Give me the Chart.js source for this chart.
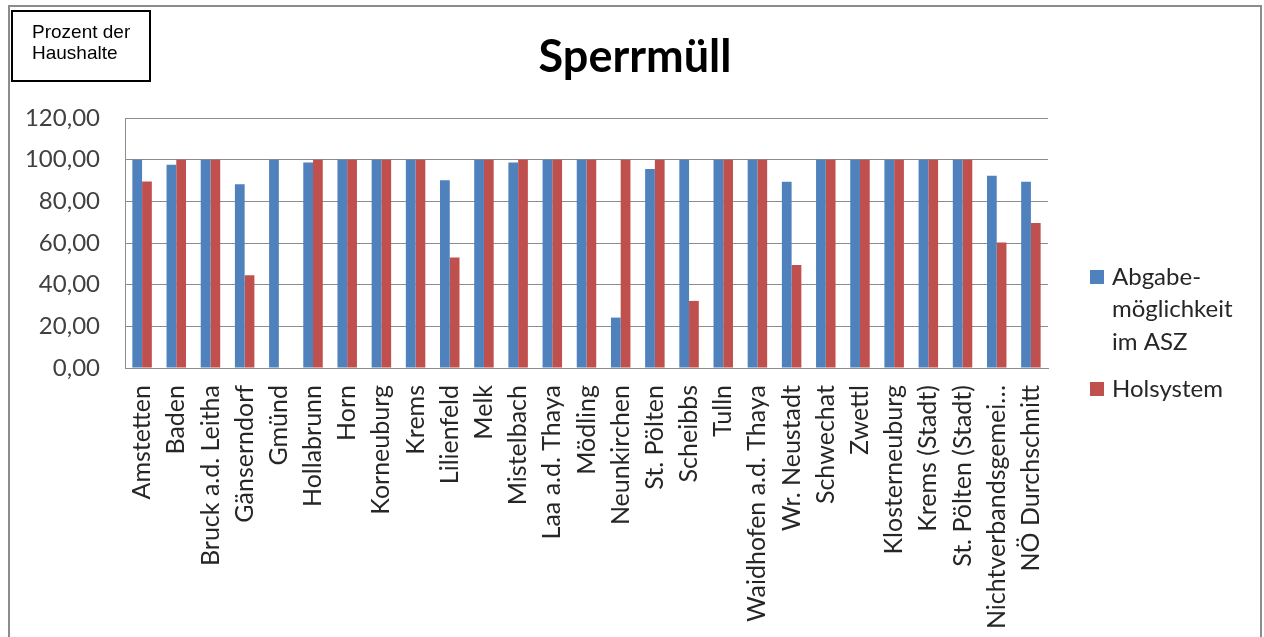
<!DOCTYPE html>
<html>
<head>
<meta charset="utf-8">
<script src="https://cdn.jsdelivr.net/npm/chart.js@4/dist/chart.umd.min.js"></script>
<style>
    html, body { margin: 0; padding: 0; background: #fff; }
    #wrap { width: 1264px; height: 637px; position: relative; }
</style>
</head>
<body>
<div id="wrap"><canvas id="chart"></canvas></div>
<script>
const categories = [
    'Amstetten', 'Baden', 'Bruck a.d. Leitha', 'Gänserndorf', 'Gmünd',
    'Hollabrunn', 'Horn', 'Korneuburg', 'Krems', 'Lilienfeld', 'Melk',
    'Mistelbach', 'Laa a.d. Thaya', 'Mödling', 'Neunkirchen', 'St. Pölten',
    'Scheibbs', 'Tulln', 'Waidhofen a.d. Thaya', 'Wr. Neustadt', 'Schwechat',
    'Zwettl', 'Klosterneuburg', 'Krems (Stadt)', 'St. Pölten (Stadt)',
    'Nichtverbandsgemei…', 'NÖ Durchschnitt',
]
const abgabeASZ = [
    100, 97.6, 100, 88.2, 100, 98.6, 100, 100, 100, 90.1, 100,
    98.6, 100, 100, 24.2, 95.5, 100, 100, 100, 89.4, 100,
    100, 100, 100, 100, 92.3, 89.4,
]
const holsystem = [
    89.5, 100, 100, 44.5, 0, 100, 100, 100, 100, 53.1, 100,
    100, 100, 100, 100, 100, 32.2, 100, 100, 49.4, 100,
    100, 100, 100, 100, 60.3, 69.6,
]
const seriesNames = [['Abgabe-', 'möglichkeit', 'im ASZ'], ['Holsystem']]
const seriesColors = ['#4F81BD', '#C0504D']
const titleText = 'Sperrmüll'
const boxText = ['Prozent der', 'Haushalte']

const FONT = 'Lato, "Open Sans", sans-serif'

// frame, label box, title and legend drawn around the chart
const decorations = {
    id: 'decorations',
    beforeDraw(chart) {
        const ctx = chart.ctx
        ctx.save()
        ctx.strokeStyle = '#8c8c8c'
        ctx.lineWidth = 2
        ctx.beginPath()
        ctx.moveTo(9, 637)
        ctx.lineTo(9, 6)
        ctx.lineTo(1261, 6)
        ctx.lineTo(1261, 637)
        ctx.stroke()

        ctx.strokeStyle = '#000'
        ctx.lineWidth = 2
        ctx.strokeRect(12, 11, 138, 70)
        ctx.fillStyle = '#000'
        ctx.font = '19px "Liberation Sans", Arial, sans-serif'
        ctx.textBaseline = 'alphabetic'
        ctx.textAlign = 'left'
        ctx.fillText(boxText[0], 32, 38)
        ctx.fillText(boxText[1], 32, 59)

        ctx.font = 'bold 45px ' + FONT
        ctx.textAlign = 'center'
        ctx.fillText(titleText, 635, 72)
        ctx.restore()
    },
    afterDraw(chart) {
        const ctx = chart.ctx
        ctx.save()
        ctx.font = '24px ' + FONT
        ctx.textBaseline = 'middle'
        ctx.textAlign = 'left'
        const starts = [277, 389]
        seriesNames.forEach((lines, i) => {
            const y = starts[i]
            ctx.fillStyle = seriesColors[i]
            ctx.fillRect(1090, y - 7, 14, 14)
            ctx.fillStyle = '#262626'
            lines.forEach((line, j) => ctx.fillText(line, 1112, y + j * 32.5))
        })
        ctx.restore()
    },
}

const chart = new Chart(document.getElementById('chart'), {
    type: 'bar',
    data: {
        labels: categories,
        datasets: [
            { label: seriesNames[0].join(' '), data: abgabeASZ, backgroundColor: seriesColors[0] },
            { label: seriesNames[1].join(' '), data: holsystem, backgroundColor: seriesColors[1] },
        ],
    },
    options: {
        responsive: true,
        maintainAspectRatio: false,
        animation: false,
        categoryPercentage: 0.57,
        barPercentage: 1,
        layout: { padding: { left: 0, top: 118, right: 216, bottom: 0 } },
        plugins: {
            legend: { display: false },
            title: { display: false },
            tooltip: { enabled: false },
        },
        scales: {
            x: {
                grid: { display: false, drawTicks: false },
                border: { color: '#8c8c8c', width: 1 },
                ticks: {
                    autoSkip: false,
                    maxRotation: 90,
                    minRotation: 90,
                    padding: 17,
                    color: '#262626',
                    font: { family: FONT, size: 25 },
                },
                afterFit: scale => { scale.height = 269 },
            },
            y: {
                min: 0,
                max: 120,
                grid: { color: '#8c8c8c', drawTicks: false },
                border: { color: '#8c8c8c', width: 1 },
                ticks: {
                    stepSize: 20,
                    padding: 25,
                    color: '#404040',
                    font: { family: FONT, size: 24 },
                    callback: v => v.toFixed(2).replace('.', ','),
                },
                afterFit: scale => { scale.width = 125 },
            },
        },
    },
    plugins: [decorations],
})
</script>
</body>
</html>
